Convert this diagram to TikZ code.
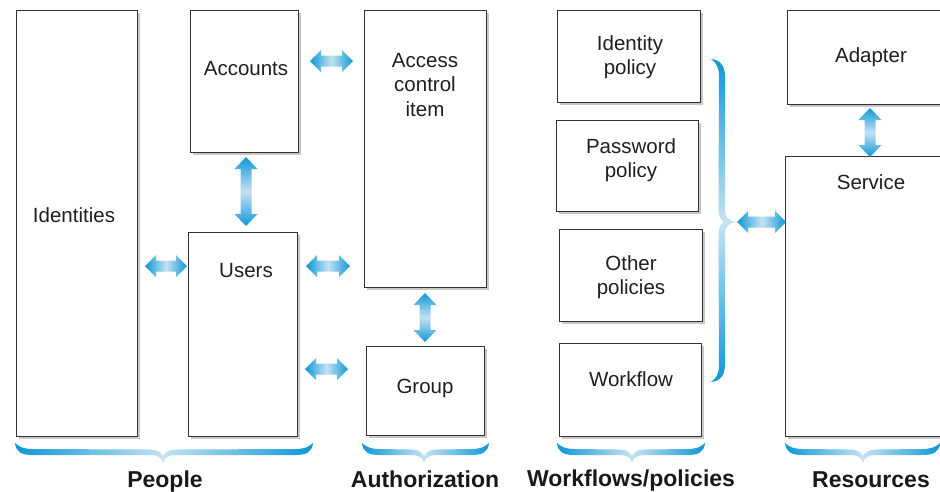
\documentclass[tikz,border=0pt]{standalone}
\usepackage{fontspec}
\setmainfont{Liberation Sans}
\usetikzlibrary{shadows,calc}
\definecolor{bdark}{RGB}{14,152,212}
\definecolor{blight}{RGB}{196,226,243}
\tikzset{
  box/.style={draw=black!80, line width=0.8pt, fill=white, anchor=north west,
    inner sep=0pt, outer sep=0pt,
    drop shadow={shadow xshift=2.5pt, shadow yshift=-2.5pt, fill=black, opacity=0.22}},
  txt/.style={font=\fontsize{20.5}{24.5}\selectfont, align=center, text=black!88, inner sep=0pt},
  lbl/.style={font=\fontsize{23}{27}\selectfont\bfseries, text=black!90, inner sep=0pt, anchor=base},
  harr/.style={left color=bdark, right color=bdark, middle color=blight},
  varr/.style={top color=bdark, bottom color=bdark, middle color=blight},
}
\newcommand{\harrow}[2]{%
  \path[harr] let \p1=(#1), \p2=(#2) in
    (\x1,\y1) -- (\x1+11pt,\y1+11pt) -- (\x1+11pt,\y1+5.5pt) -- (\x2-11pt,\y1+5.5pt)
    -- (\x2-11pt,\y1+11pt) -- (\x2,\y1) -- (\x2-11pt,\y1-11pt) -- (\x2-11pt,\y1-5.5pt)
    -- (\x1+11pt,\y1-5.5pt) -- (\x1+11pt,\y1-11pt) -- cycle;}
\newcommand{\varrow}[2]{%
  \path[varr] let \p1=(#1), \p2=(#2) in
    (\x1,\y1) -- (\x1+11.5pt,\y1-12pt) -- (\x1+5.5pt,\y1-12pt) -- (\x1+5.5pt,\y2+12pt)
    -- (\x1+11.5pt,\y2+12pt) -- (\x1,\y2) -- (\x1-11.5pt,\y2+12pt) -- (\x1-5.5pt,\y2+12pt)
    -- (\x1-5.5pt,\y1-12pt) -- (\x1-11.5pt,\y1-12pt) -- cycle;}
% half of a horizontal brace: x-end, x-middle, y-top, direction, shading
\newcommand{\hbrhalf}[5]{%
  \path[#5] (#1,#3) .. controls ({#1+#4*1},{#3+9}) and ({#1+#4*6},{#3+12}) .. ({#1+#4*18},{#3+12})
    -- ({#2-#4*12},{#3+12}) .. controls ({#2-#4*5},{#3+12}) and ({#2-#4*1},{#3+15}) .. (#2,{#3+20})
    -- (#2,{#3+13}) .. controls ({#2-#4*2},{#3+9}) and ({#2-#4*6},{#3+6.5}) .. ({#2-#4*14},{#3+6.5})
    -- ({#1+#4*18},{#3+6}) .. controls ({#1+#4*9},{#3+6}) and ({#1+#4*4},{#3+4}) .. (#1,#3) -- cycle;}
% half of a vertical brace: y-end, y-middle, x-left, direction, shading
\newcommand{\vbrhalf}[5]{%
  \path[#5] (#3,#1) .. controls ({#3+9},{#1+#4*1}) and ({#3+14},{#1+#4*6}) .. ({#3+14},{#1+#4*18})
    -- ({#3+14},{#2-#4*12}) .. controls ({#3+14},{#2-#4*5}) and ({#3+17},{#2-#4*1}) .. ({#3+26},#2)
    -- ({#3+13},#2) .. controls ({#3+9},{#2-#4*2}) and ({#3+7.5},{#2-#4*6}) .. ({#3+7.5},{#2-#4*14})
    -- ({#3+8},{#1+#4*18}) .. controls ({#3+8},{#1+#4*9}) and ({#3+6},{#1+#4*4}) .. (#3,#1) -- cycle;}
\begin{document}
\begin{tikzpicture}[x=1pt,y=-1pt]
\useasboundingbox[fill=white] (0,0) rectangle (940,491);
% boxes
\node[box, minimum width=121pt, minimum height=426pt] (ident) at (16,10) {};
\node[box, minimum width=108pt, minimum height=142pt] (acct) at (190,10) {};
\node[box, minimum width=109pt, minimum height=204pt] (users) at (188,232) {};
\node[box, minimum width=122pt, minimum height=277pt] (aci) at (364,10) {};
\node[box, minimum width=118pt, minimum height=89pt] (group) at (366,346) {};
\node[box, minimum width=143pt, minimum height=92pt] (idpol) at (557,10) {};
\node[box, minimum width=142pt, minimum height=91pt] (pwpol) at (556,120) {};
\node[box, minimum width=143pt, minimum height=92pt] (othpol) at (559,229) {};
\node[box, minimum width=142pt, minimum height=93pt] (wf) at (559,343) {};
\node[box, minimum width=170pt, minimum height=94pt] (adapter) at (787,10) {};
\node[box, minimum width=172pt, minimum height=280pt] (service) at (785,156) {};
% texts
\node[txt] (tident) at (74,215) {Identities};
\node[txt] (tacct) at (246,69) {Accounts};
\node[txt] (tusers) at (246,271) {Users};
\node[txt] (taci) at (425,85) {Access\\control\\item};
\node[txt] (tgroup) at (425,388) {Group};
\node[txt] (tidpol) at (630,57) {Identity\\policy};
\node[txt] (tpwpol) at (631,160) {Password\\policy};
\node[txt] (tothpol) at (631,277) {Other\\policies};
\node[txt] (twf) at (631,379) {Workflow};
\node[txt] (tadapter) at (871,57) {Adapter};
\node[txt] (tservice) at (871,182) {Service};
% arrow end points
\coordinate (a1s) at (145,266); \coordinate (a1e) at (187,266);
\coordinate (a2s) at (310,61);  \coordinate (a2e) at (353,61);
\coordinate (a3s) at (306,266); \coordinate (a3e) at (350,266);
\coordinate (a4s) at (305,369); \coordinate (a4e) at (348,369);
\coordinate (a5s) at (737,222); \coordinate (a5e) at (786,222);
\coordinate (v1s) at (246,157); \coordinate (v1e) at (246,226);
\coordinate (v2s) at (425,293); \coordinate (v2e) at (425,342);
\coordinate (v3s) at (870,108); \coordinate (v3e) at (870,157);
\harrow{a1s}{a1e}
\harrow{a2s}{a2e}
\harrow{a3s}{a3e}
\harrow{a4s}{a4e}
\harrow{a5s}{a5e}
\varrow{v1s}{v1e}
\varrow{v2s}{v2e}
\varrow{v3s}{v3e}
% bottom braces
\hbrhalf{15}{163}{443}{1}{left color=bdark, right color=blight}
\hbrhalf{313}{163}{443}{-1}{left color=blight, right color=bdark}
\hbrhalf{362}{424}{443}{1}{left color=bdark, right color=blight}
\hbrhalf{489}{424}{443}{-1}{left color=blight, right color=bdark}
\hbrhalf{557}{632}{443}{1}{left color=bdark, right color=blight}
\hbrhalf{705}{632}{443}{-1}{left color=blight, right color=bdark}
\hbrhalf{785}{863}{443}{1}{left color=bdark, right color=blight}
\hbrhalf{940}{863}{443}{-1}{left color=blight, right color=bdark}
% right-hand brace
\vbrhalf{59}{222}{711}{1}{top color=bdark, bottom color=blight}
\vbrhalf{382}{222}{711}{-1}{top color=blight, bottom color=bdark}
% group labels
\node[lbl] (lpeople) at (165,487) {People};
\node[lbl] (lauth) at (425,487) {Authorization};
\node[lbl] (lwf) at (631,486) {Workflows/policies};
\node[lbl] (lres) at (871,487.5) {Resources};
\end{tikzpicture}
\end{document}
